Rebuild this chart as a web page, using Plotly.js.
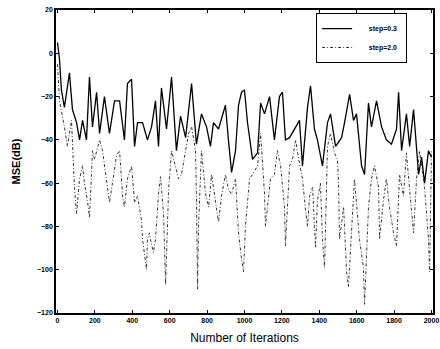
<!DOCTYPE html>
<html><head><meta charset="utf-8">
<script src="https://cdn.plot.ly/plotly-3.0.1.min.js"></script>
<style>html,body{margin:0;padding:0;background:#fff}#chart{width:440px;height:349px}</style>
</head><body><div id="chart"></div>
<script>
const seriesNames = ["step=0.3", "step=2.0"];
const iterA = [0,11,21,37,64,80,102,118,134,155,171,187,209,225,251,278,305,332,358,374,396,412,428,455,481,503,524,540,556,583,610,636,658,685,717,743,770,797,818,834,861,898,914,931,952,968,984,1000,1016,1043,1070,1086,1107,1134,1160,1187,1203,1219,1241,1267,1294,1310,1337,1353,1374,1390,1417,1444,1460,1487,1503,1519,1535,1562,1583,1599,1626,1642,1663,1679,1706,1733,1759,1786,1813,1824,1840,1866,1883,1904,1931,1947,1963,1984,2000];
const mseA = [5,-3,-17,-25,-9,-26,-32,-40,-31,-40,-11,-34,-18,-37,-20,-37,-22,-22,-40,-14,-12,-43,-32,-32,-40,-34,-22,-43,-16,-35,-11,-45,-29,-39,-14,-42,-28,-34,-43,-32,-35,-24,-40,-55,-45,-24,-18,-17,-32,-49,-46,-23,-28,-20,-40,-20,-18,-40,-39,-35,-31,-52,-25,-15,-35,-40,-52,-32,-28,-43,-41,-39,-32,-19,-31,-28,-52,-56,-23,-34,-22,-34,-40,-42,-35,-18,-45,-28,-43,-26,-56,-48,-60,-45,-48];
const iterB = [0,11,37,53,75,91,102,118,134,144,160,171,182,187,198,225,241,262,278,294,316,332,348,358,374,396,412,428,449,455,465,476,481,492,497,513,524,540,551,567,578,594,610,631,647,663,685,701,717,738,743,749,754,770,792,808,824,845,861,877,898,914,931,952,968,984,995,1005,1027,1043,1070,1086,1107,1112,1123,1139,1160,1176,1193,1214,1219,1241,1257,1273,1294,1310,1326,1337,1348,1364,1374,1380,1390,1406,1417,1428,1444,1460,1481,1497,1503,1508,1530,1546,1556,1572,1588,1615,1636,1642,1652,1663,1679,1695,1717,1722,1743,1759,1775,1797,1813,1829,1850,1866,1883,1904,1920,1936,1963,1984,1990,2000];
const mseB = [-5,-22,-34,-43,-31,-63,-74,-58,-52,-60,-68,-76,-56,-45,-49,-40,-45,-58,-69,-60,-47,-45,-66,-71,-58,-52,-69,-66,-77,-86,-92,-100,-86,-83,-86,-92,-86,-65,-57,-74,-107,-63,-45,-52,-58,-56,-45,-37,-34,-45,-66,-109,-80,-45,-65,-71,-56,-68,-78,-66,-56,-63,-65,-58,-83,-95,-101,-80,-58,-56,-52,-37,-65,-80,-71,-58,-56,-45,-52,-71,-89,-52,-49,-40,-51,-58,-72,-80,-66,-62,-80,-90,-68,-60,-86,-99,-43,-37,-46,-49,-60,-86,-71,-101,-108,-83,-58,-86,-99,-116,-90,-71,-58,-52,-62,-86,-68,-58,-71,-83,-89,-56,-66,-46,-63,-83,-58,-45,-62,-86,-101,-45];
const xTicks = [0,200,400,600,800,1000,1200,1400,1600,1800,2000];
const yTicks = [20,0,-20,-40,-60,-80,-100,-120];

const pad = "\u00a0\u00a0\u00a0\u00a0\u00a0\u00a0";
const traces = [
  {x: iterA, y: mseA, type: "scatter", mode: "lines", name: pad + seriesNames[0] + "\u00a0\u00a0",
   line: {color: "#000", width: 1.3}},
  {x: iterB, y: mseB, type: "scatter", mode: "lines", name: pad + seriesNames[1] + "\u00a0\u00a0",
   line: {color: "#333", width: 1, dash: "3px,2px,1px,2px"}}
];
const axisCommon = {
  showgrid: false, zeroline: false, showline: true, linecolor: "#000", linewidth: 1.8,
  mirror: "ticks", ticks: "inside", ticklen: 3, tickcolor: "#000", tickwidth: 1,
  tickfont: {family: "Liberation Sans, Arial, sans-serif", size: 7, color: "#000", weight: "bold"}
};
const layout = {
  width: 440, height: 349,
  margin: {l: 56, r: 7, t: 10, b: 36},
  paper_bgcolor: "#fff", plot_bgcolor: "#fff",
  showlegend: true,
  legend: {x: 0.69, y: 0.99, xanchor: "left", yanchor: "top", bgcolor: "#fff",
    bordercolor: "#000", borderwidth: 1, tracegroupgap: 0,
    font: {family: "Liberation Sans, Arial, sans-serif", size: 7, color: "#000", weight: "bold"}},
  xaxis: Object.assign({}, axisCommon, {range: [-8, 2008], tickvals: xTicks,
    title: {text: "Number of Iterations", standoff: 10,
      font: {family: "Liberation Sans, Arial, sans-serif", size: 12, color: "#000"}}}),
  yaxis: Object.assign({}, axisCommon, {range: [-120, 20], tickvals: yTicks,
    title: {text: "MSE(dB)", standoff: 14,
      font: {family: "Liberation Sans, Arial, sans-serif", size: 11, color: "#000", weight: "bold"}}})
};
Plotly.newPlot("chart", traces, layout, {displayModeBar: false, staticPlot: true});
</script></body></html>
